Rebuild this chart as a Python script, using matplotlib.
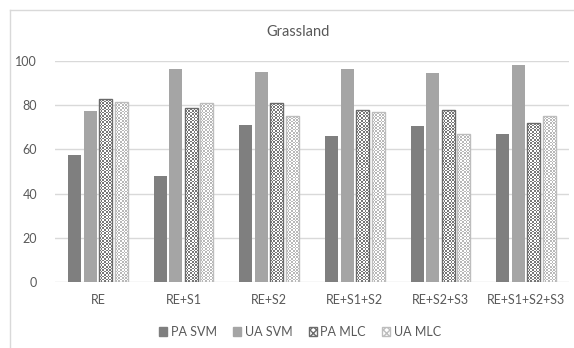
import numpy as np
import matplotlib
matplotlib.use("Agg")
import matplotlib.pyplot as plt
from matplotlib.patches import Patch
from matplotlib.lines import Line2D

plt.rcParams["font.family"] = ["Lato", "DejaVu Sans"]

# values
categories = ["RE", "RE+S1", "RE+S2", "RE+S1+S2", "RE+S2+S3", "RE+S1+S2+S3"]
pa_svm = [57.5, 48.1, 71.1, 66.2, 70.7, 67.1]
ua_svm = [77.6, 96.6, 94.8, 96.6, 94.5, 98.4]
pa_mlc = [82.7, 78.9, 80.9, 78.0, 78.0, 71.8]
ua_mlc = [81.5, 81.0, 75.1, 77.1, 67.1, 75.1]
series_names = ["PA SVM", "UA SVM", "PA MLC", "UA MLC"]
yticks = [0, 20, 40, 60, 80, 100]

TXT = "#595959"
GRID = "#d9d9d9"

fig = plt.figure(figsize=(5.74, 3.48), dpi=100)
ax = fig.add_axes([55 / 574, 1 - 282 / 348, 514 / 574, 221 / 348])

x = np.arange(len(categories))
width = 0.152
step = 0.182
offsets = (np.arange(4) - 1.5) * step

# solid bars
ax.bar(x + offsets[0], pa_svm, width, color="#7f7f7f", zorder=3)
ax.bar(x + offsets[1], ua_svm, width, color="#a5a5a5", zorder=3)

ax.set_xlim(-0.5, len(categories) - 0.5)
ax.set_ylim(0, 100)


def checker_bars(vals, off, fg, edge):
    """Bars filled with a small checkerboard pattern (image clipped to the bar)."""
    bars = ax.bar(x + off, vals, width, facecolor="white", edgecolor=edge,
                  linewidth=1.0, zorder=3)
    fig.canvas.draw()
    fgc = np.array(matplotlib.colors.to_rgb(fg))
    for b in bars:
        x0, y0 = b.get_x(), b.get_y()
        x1, y1 = x0 + b.get_width(), y0 + b.get_height()
        (px0, py0), (px1, py1) = ax.transData.transform([(x0, y0), (x1, y1)])
        nx = max(1, int(round((px1 - px0) / 1.6)))
        ny = max(1, int(round((py1 - py0) / 1.6)))
        ii, jj = np.indices((ny, nx))
        mask = (ii + jj) % 2 == 0
        img = np.ones((ny, nx, 3))
        img[mask] = fgc
        im = ax.imshow(img, extent=(x0, x1, y0, y1), aspect="auto",
                       interpolation="nearest", zorder=3.5)
        im.set_clip_path(b)
        b.set_zorder(4)
        b.set_facecolor("none")
    return bars


checker_bars(pa_mlc, offsets[2], "#777777", "#6a6a6a")
checker_bars(ua_mlc, offsets[3], "#b8b8b8", "#bdbdbd")
ax.set_xlim(-0.5, len(categories) - 0.5)
ax.set_ylim(0, 100)

ax.set_yticks(yticks)
ax.set_xticks(x)
ax.set_xticklabels(categories)
ax.tick_params(length=0, labelsize=9, colors=TXT)
ax.tick_params(axis="y", pad=13)
ax.tick_params(axis="x", pad=9)
ax.yaxis.grid(True, color=GRID, linewidth=1.0, zorder=0)
ax.set_axisbelow(True)
for s in ax.spines.values():
    s.set_visible(False)

fig.text(298 / 574, 1 - 32 / 348, "Grassland", ha="center", va="center",
         fontsize=10.5, color=TXT)

handles = [
    Patch(facecolor="#7f7f7f", edgecolor="#7f7f7f"),
    Patch(facecolor="#a5a5a5", edgecolor="#a5a5a5"),
    Patch(facecolor="white", edgecolor="#6a6a6a", hatch="xxxxx"),
    Patch(facecolor="white", edgecolor="#bdbdbd", hatch="xxxxx"),
]
fig.legend(handles, series_names, loc="center", bbox_to_anchor=(300 / 574, 1 - 332 / 348),
           ncol=4, frameon=False, fontsize=9, handlelength=0.65, handleheight=0.65,
           handletextpad=0.3, columnspacing=1.3, labelcolor=TXT)

# chart-area border (left and top edges visible in the crop)
fig.add_artist(Line2D([10 / 574, 10 / 574], [0, 1 - 9.5 / 348],
                      transform=fig.transFigure, color=GRID, linewidth=1.0))
fig.add_artist(Line2D([10 / 574, 1], [1 - 9.5 / 348, 1 - 9.5 / 348],
                      transform=fig.transFigure, color=GRID, linewidth=1.0))

fig.savefig("out.png", dpi=100)
